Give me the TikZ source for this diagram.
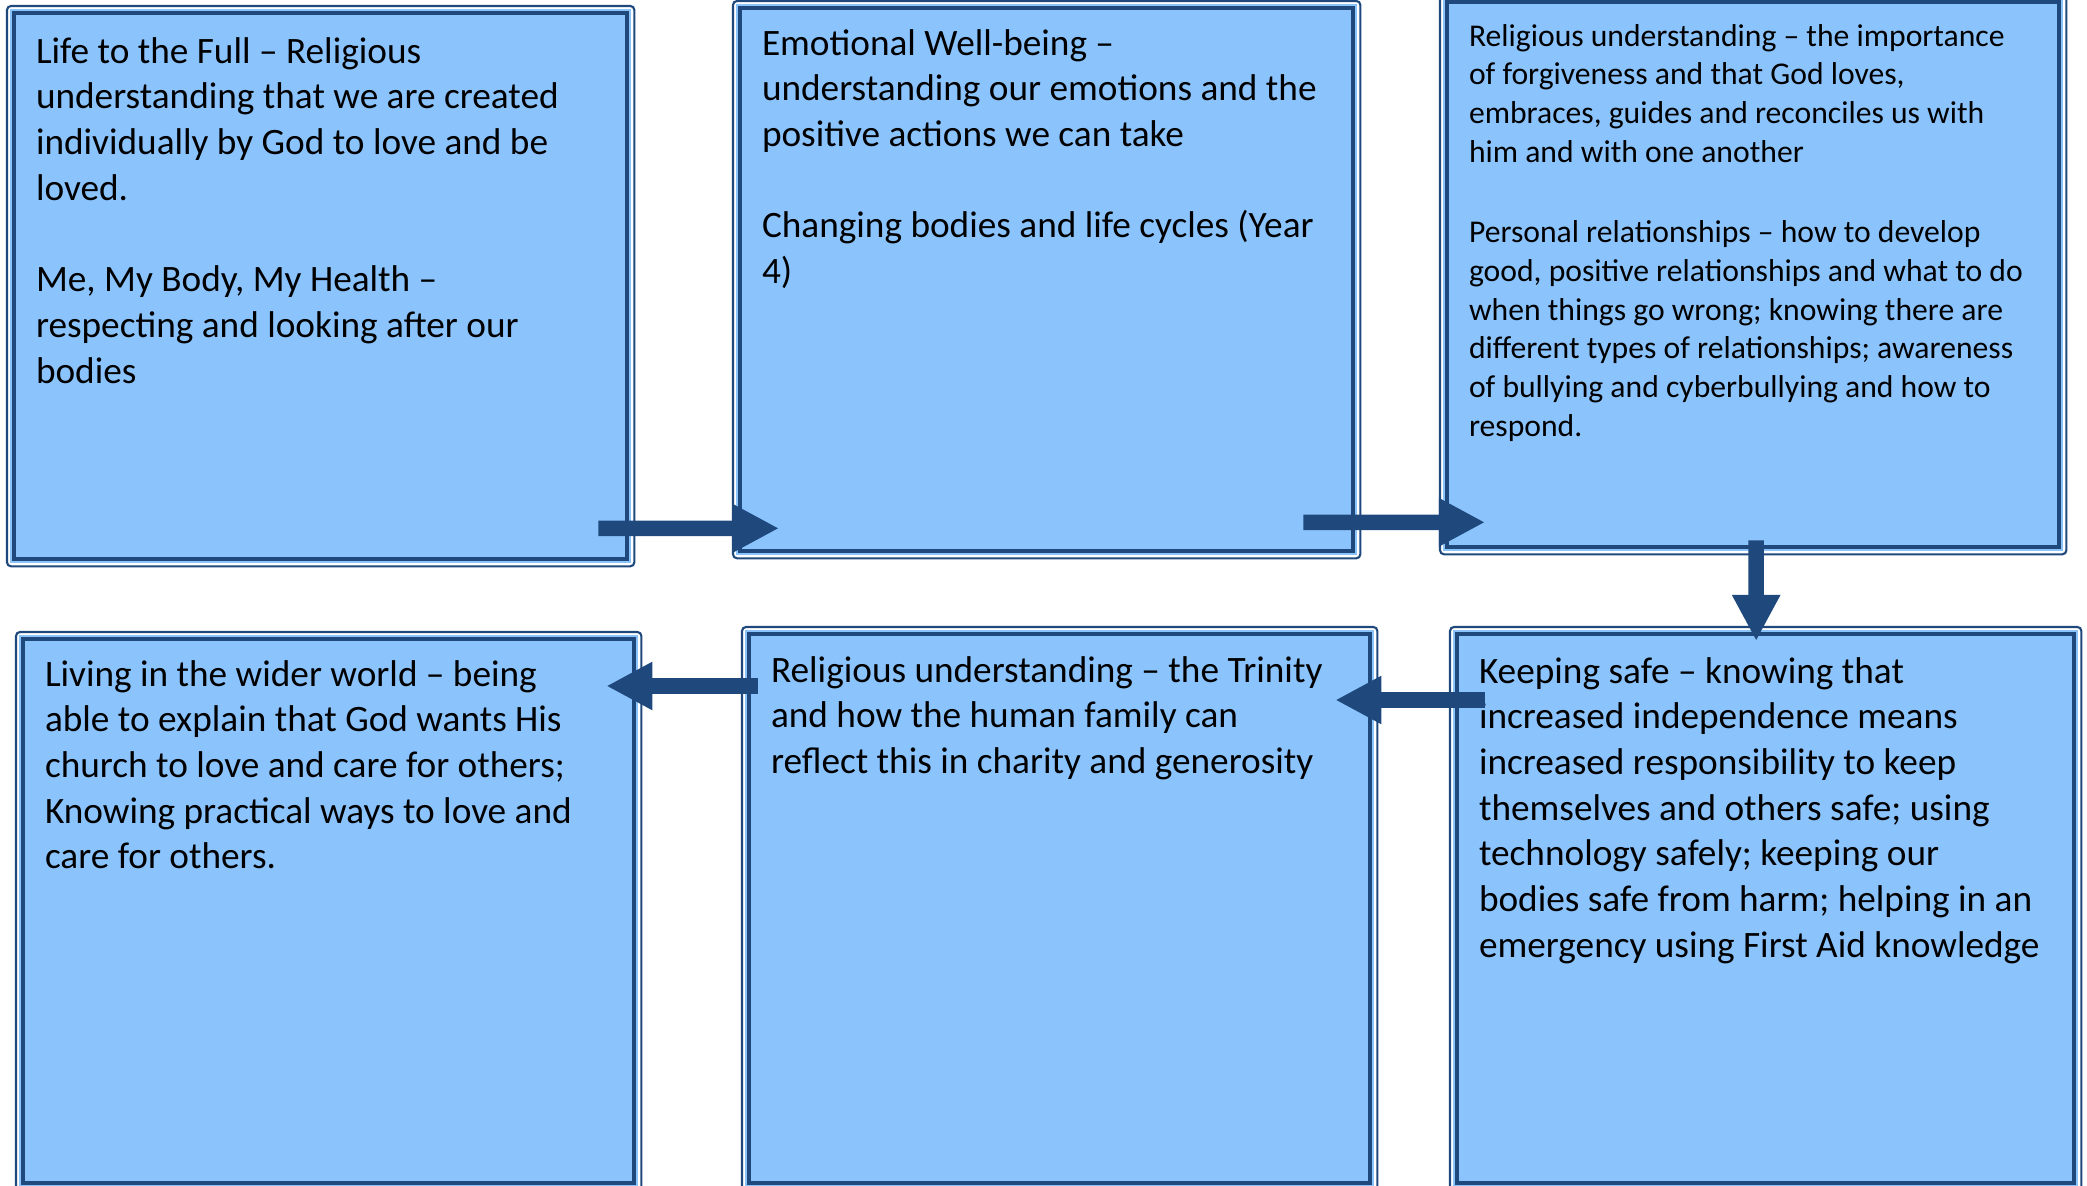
\documentclass[tikz,border=0pt]{standalone}
\usepackage{fontspec}
\setmainfont{Carlito}
\usepackage{tikz}
\usetikzlibrary{positioning,calc,arrows.meta,backgrounds}
\definecolor{topicfill}{HTML}{8BC3FD}
\definecolor{topicline}{HTML}{1F497D}
\tikzset{
  topic/.style={draw=topicline, line width=1.1pt, fill=topicfill, anchor=north west, align=flush left, inner xsep=0.22cm, inner ysep=0pt, outer sep=0pt, text height=0.47cm, font=\fontsize{10.6}{13}\selectfont},
  topicsmall/.style={topic, text height=0.44cm, font=\fontsize{9}{11}\selectfont},
  topicframe/.style={draw=topicline, line width=0.6pt, fill=white, rounded corners=0.04cm},
  flowarrow/.style={draw=topicline, line width=0.155cm, -{Triangle[length=0.46cm, width=0.45cm]}}
}

\begin{document}
\begin{tikzpicture}[x=0.01cm, y=-0.01cm]
  \useasboundingbox (0,0) rectangle (2087,1186);

  % top row
  \node[topic, text height=0.50cm, text width=5.69cm, text depth=4.96cm] (b1) at (14,13) {Life to the Full – Religious\\ understanding that we are created\\ individually by God to love and be\\ loved.\\[13pt] Me, My Body, My Health –\\ respecting and looking after our\\ bodies};
  \node[topic, text width=5.69cm, text depth=4.96cm] (b2) at (740,8) {Emotional Well-being –\\ understanding our emotions and the\\ positive actions we can take\\[13pt] Changing bodies and life cycles (Year\\ 4)};
  \node[topicsmall, text width=5.68cm, text depth=5.01cm] (b3) at (1447,2) {Religious understanding – the importance\\ of forgiveness and that God loves,\\ embraces, guides and reconciles us with\\ him and with one another\\[12pt] Personal relationships – how to develop\\ good, positive relationships and what to do\\ when things go wrong; knowing there are\\ different types of relationships; awareness\\ of bullying and cyberbullying and how to\\ respond.};

  % bottom row
  \node[topic, text width=5.67cm, text depth=4.97cm] (b4) at (23,639) {Living in the wider world – being\\ able to explain that God wants His\\ church to love and care for others;\\ Knowing practical ways to love and\\ care for others.};
  \node[topic, text height=0.48cm, text width=5.77cm, text depth=5.01cm] (b5) at (749,634) {Religious understanding – the Trinity\\ and how the human family can\\ reflect this in charity and generosity};
  \node[topic, text height=0.49cm, text width=5.73cm, text depth=5.00cm] (b6) at (1457,634) {Keeping safe – knowing that\\ increased independence means\\ increased responsibility to keep\\ themselves and others safe; using\\ technology safely; keeping our\\ bodies safe from harm; helping in an\\ emergency using First Aid knowledge};

  % double frames
  \begin{scope}[on background layer]
    \foreach \b in {b1,b2,b3,b4,b5,b6} {
      \draw[topicframe] ($(\b.north west)+(-7,-7)$) rectangle ($(\b.south east)+(7,7)$);
      \fill[topicfill] ($(\b.north west)+(-4,-4)$) rectangle ($(\b.south east)+(4,4)$);
    }
  \end{scope}

  \draw[flowarrow] ($(b1.south east)+(-29,-31)$) -- ($(b2.south west)+(39,-23)$);
  \draw[flowarrow] ($(b2.south east)+(-50,-29)$) -- ($(b3.south west)+(38,-25)$);
  \draw[flowarrow] ($(b3.south)+(3,-7)$) -- ($(b6.north)+(-9.5,7)$);
  \draw[flowarrow] ($(b6.north west)+(28,66)$) -- ($(b5.north east)+(-35,66)$);
  \draw[flowarrow] ($(b5.north west)+(9,52)$) -- ($(b4.north east)+(-28,47)$);
\end{tikzpicture}
\end{document}
